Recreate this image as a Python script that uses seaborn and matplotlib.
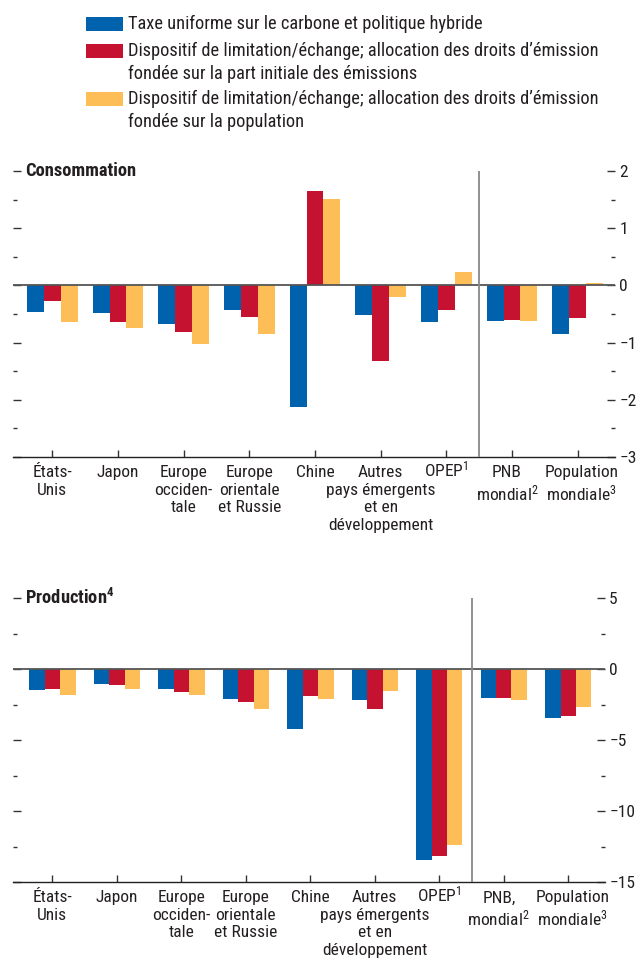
import seaborn as sns
import matplotlib.pyplot as plt
import pandas as pd
from matplotlib.patches import Rectangle
from matplotlib.ticker import MultipleLocator
from matplotlib.transforms import offset_copy

# Data
series = ["Taxe uniforme sur le carbone et politique hybride",
          "Dispositif de limitation/échange; allocation des droits d’émission\nfondée sur la part initiale des émissions",
          "Dispositif de limitation/échange; allocation des droits d’émission\nfondée sur la population"]
colors = ["#0062AD", "#C41230", "#FDBE57"]

cats_conso = ["États-\nUnis", "Japon", "Europe\nocciden-\ntale", "Europe\norientale\net Russie",
              "Chine", "Autres\npays émergents\net en\ndéveloppement", "OPEP$^1$",
              "PNB\nmondial$^2$", "Population\nmondiale$^3$"]
cats_prod = ["États-\nUnis", "Japon", "Europe\nocciden-\ntale", "Europe\norientale\net Russie",
             "Chine", "Autres\npays émergents\net en\ndéveloppement", "OPEP$^1$",
             "PNB,\nmondial$^2$", "Population\nmondiale$^3$"]

conso_taxe = [-0.46, -0.48, -0.68, -0.43, -2.12, -0.52, -0.64, -0.62, -0.85]
conso_part = [-0.27, -0.64, -0.81, -0.55, 1.65, -1.33, -0.43, -0.60, -0.57]
conso_pop = [-0.64, -0.74, -1.02, -0.85, 1.51, -0.20, 0.23, -0.62, 0.05]

prod_taxe = [-1.50, -1.08, -1.43, -2.14, -4.25, -2.21, -13.47, -2.07, -3.47]
prod_part = [-1.43, -1.15, -1.60, -2.30, -1.92, -2.84, -13.19, -2.07, -3.33]
prod_pop = [-1.85, -1.43, -1.85, -2.84, -2.14, -1.57, -12.42, -2.21, -2.70]

sns.set_style("white")
plt.rcParams['font.family'] = ['Roboto Condensed', 'DejaVu Sans']
plt.rcParams['mathtext.fontset'] = 'custom'
plt.rcParams['mathtext.rm'] = 'Roboto Condensed'
plt.rcParams['mathtext.it'] = 'Roboto Condensed'
plt.rcParams['mathtext.bf'] = 'Roboto Condensed:bold'
plt.rcParams['axes.unicode_minus'] = True
TXT = "#231F20"


def long_df(cats, vals):
    rows = []
    for s, v in zip(series, vals):
        for c, x in zip(cats, v):
            rows.append({"cat": c, "serie": s, "val": x})
    return pd.DataFrame(rows)


W, H = 641, 969
fig = plt.figure(figsize=(W / 100, H / 100), dpi=100)


def px_axes(left, top, right, bottom):
    return fig.add_axes([left / W, 1 - bottom / H, (right - left) / W, (bottom - top) / H])


def draw_panel(ax, cats, vals, ylim, major, minor, title, xlim, width):
    df = long_df(cats, vals)
    sns.barplot(data=df, x="cat", y="val", hue="serie", palette=colors,
                width=width, order=cats, hue_order=series, ax=ax,
                legend=False, saturation=1, linewidth=0)
    ax.set_xlim(*xlim)
    ax.set_ylim(*ylim)
    ax.axhline(0, color="#555555", lw=1.3, zorder=3)
    ax.axvline(6.5, color="#888888", lw=1.3, zorder=3)
    for s in ["top", "left", "right"]:
        ax.spines[s].set_visible(False)
    ax.spines["bottom"].set_color("#222222")
    ax.spines["bottom"].set_linewidth(1.0)
    ax.yaxis.set_major_locator(MultipleLocator(major))
    ax.yaxis.set_minor_locator(MultipleLocator(minor))
    ax.tick_params(axis="y", which="both", left=True, right=True, labelleft=False,
                   labelright=True, direction="in", color="#333333", labelsize=12.5,
                   labelcolor=TXT, pad=3)
    ax.tick_params(axis="y", which="major", length=6, width=1)
    ax.tick_params(axis="y", which="minor", length=3, width=1)
    ax.tick_params(axis="x", which="major", bottom=True, direction="in", length=5,
                   width=1, color="#333333", labelsize=12.5, labelcolor=TXT, pad=6)
    ax.set_xticks(range(len(cats)))
    ax.set_xticklabels(cats, linespacing=1.2)
    ax.set_xlabel("")
    ax.set_ylabel("")
    # small nudges: superscript on "OPEP" pushes it down, last two labels sit apart
    labels = ax.get_xticklabels()
    for i, (dx, dy) in {6: (0, 6), 7: (-5, 0), 8: (4, 0)}.items():
        lab = labels[i]
        lab.set_transform(offset_copy(lab.get_transform(), fig=fig, x=dx, y=dy, units="dots"))
    ax.text(0.02, ylim[1], title, transform=ax.get_yaxis_transform(),
            ha="left", va="center", fontsize=13.3, fontweight="bold", color=TXT)


ax1 = px_axes(13, 171, 615, 457)
draw_panel(ax1, cats_conso, [conso_taxe, conso_part, conso_pop], (-3, 2), 1, 0.5,
           "Consommation", (-0.6, 8.57), 0.77)

ax2 = px_axes(13, 598, 605, 882)
draw_panel(ax2, cats_prod, [prod_taxe, prod_part, prod_pop], (-15, 5), 5, 2.5,
           r"Production$^{\mathbf{4}}$", (-0.61, 8.57), 0.72)

# Legend drawn at the top of the figure
legend_rows = [(17, [24]), (44, [51, 74]), (92, [99, 122])]
for (top, ys), col, lab in zip(legend_rows, colors, series):
    fig.add_artist(Rectangle((86 / W, 1 - (top + 14) / H), 37 / W, 14 / H,
                             transform=fig.transFigure, color=col, lw=0))
    for y, line in zip(ys, lab.split("\n")):
        fig.text(128 / W, 1 - y / H, line, ha="left", va="center",
                 fontsize=13.2, color=TXT)

fig.savefig("out.png", dpi=100)
